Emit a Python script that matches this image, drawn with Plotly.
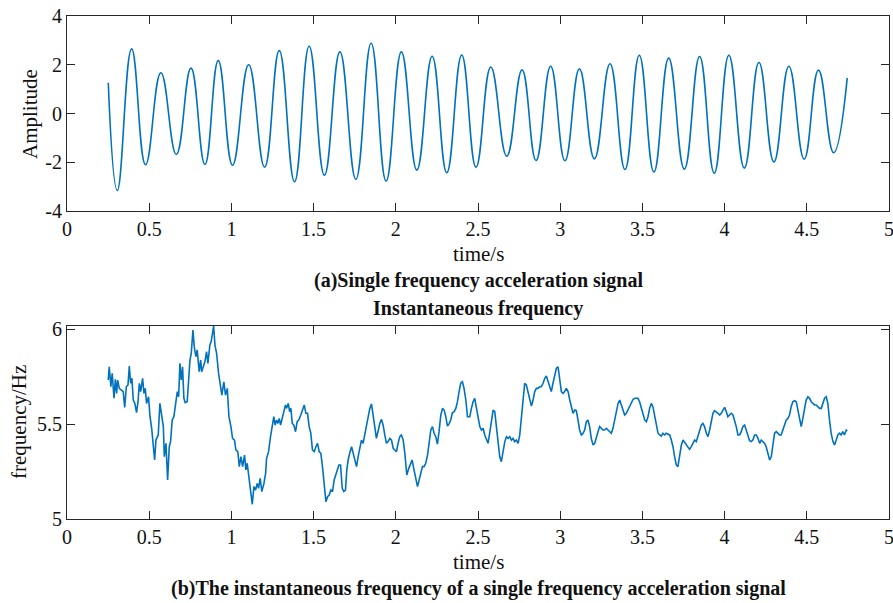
import plotly.graph_objects as go

# ---------------- data ----------------
# (a) acceleration signal: extrema (time, amplitude)
sig_t = [0.251, 0.306, 0.393, 0.478, 0.571, 0.665, 0.754, 0.839, 0.920, 1.007,
         1.105, 1.202, 1.291, 1.384, 1.473, 1.566, 1.660, 1.757, 1.850, 1.941,
         2.034, 2.128, 2.221, 2.310, 2.401, 2.488, 2.578, 2.675, 2.768, 2.853,
         2.942, 3.029, 3.117, 3.208, 3.303, 3.394, 3.481, 3.570, 3.660, 3.755,
         3.848, 3.937, 4.026, 4.120, 4.209, 4.300, 4.391, 4.484, 4.571, 4.663,
         4.746]
sig_a = [1.26, -3.16, 2.65, -2.10, 1.67, -1.68, 1.86, -2.09, 2.17, -2.12,
         2.00, -2.20, 2.58, -2.80, 2.76, -2.53, 2.53, -2.70, 2.88, -2.77,
         2.53, -2.32, 2.35, -2.43, 2.40, -2.20, 1.91, -1.75, 1.79, -1.93,
         1.94, -1.94, 1.83, -1.86, 2.04, -2.30, 2.39, -2.40, 2.27, -2.28,
         2.34, -2.45, 2.39, -2.24, 2.09, -1.99, 1.94, -1.87, 1.78, -1.61,
         1.46]

# (b) instantaneous frequency (time, Hz)
freq_t = [0.251, 0.257, 0.267, 0.275, 0.286, 0.294, 0.302, 0.308, 0.318, 0.332,
          0.342, 0.351, 0.361, 0.371, 0.379, 0.387, 0.395, 0.403, 0.413, 0.423,
          0.432, 0.440, 0.448, 0.460, 0.468, 0.476, 0.484, 0.496, 0.505, 0.515,
          0.525, 0.533, 0.541, 0.555, 0.565, 0.575, 0.586, 0.592, 0.602, 0.612,
          0.622, 0.630, 0.640, 0.650, 0.663, 0.671, 0.679, 0.687, 0.695, 0.703,
          0.711, 0.719, 0.731, 0.748, 0.756, 0.766, 0.774, 0.784, 0.792, 0.804,
          0.813, 0.819, 0.829, 0.839, 0.849, 0.857, 0.869, 0.877, 0.885, 0.892,
          0.900, 0.910, 0.922, 0.934, 0.942, 0.954, 0.964, 0.975, 0.985, 0.997,
          1.007, 1.019, 1.027, 1.039, 1.048, 1.058, 1.068, 1.080, 1.088, 1.096,
          1.108, 1.116, 1.127, 1.137, 1.147, 1.157, 1.165, 1.175, 1.185, 1.198,
          1.208, 1.214, 1.226, 1.238, 1.250, 1.258, 1.266, 1.275, 1.283, 1.291,
          1.299, 1.307, 1.319, 1.329,
          1.335, 1.346, 1.354, 1.362, 1.370, 1.380, 1.390, 1.400, 1.410, 1.422,
          1.433, 1.443, 1.453, 1.463, 1.473, 1.483, 1.493, 1.504, 1.514, 1.524,
          1.534, 1.544, 1.554, 1.564, 1.575, 1.585, 1.595, 1.605, 1.615, 1.625,
          1.635, 1.645, 1.654, 1.664, 1.674, 1.684, 1.694, 1.702, 1.710, 1.722,
          1.731, 1.741, 1.751, 1.761, 1.771, 1.781, 1.791, 1.801, 1.812, 1.822,
          1.832, 1.842, 1.852, 1.862, 1.872, 1.882, 1.893, 1.903, 1.913, 1.923,
          1.933, 1.943, 1.953, 1.964, 1.974, 1.984, 1.994, 2.004, 2.014, 2.024,
          2.034, 2.045, 2.055, 2.067, 2.079, 2.089, 2.099, 2.109, 2.120, 2.132,
          2.142, 2.152, 2.162, 2.172, 2.182, 2.193, 2.203, 2.213, 2.223, 2.233,
          2.243, 2.253, 2.263, 2.274, 2.284, 2.294, 2.304, 2.314, 2.324, 2.334,
          2.344, 2.355, 2.365, 2.375, 2.385, 2.395, 2.405, 2.415, 2.426, 2.436,
          2.446,
          2.450, 2.460, 2.470, 2.480, 2.490, 2.500, 2.511, 2.521, 2.531, 2.541,
          2.551, 2.561, 2.571, 2.582, 2.592, 2.602, 2.612, 2.622, 2.632, 2.642,
          2.652, 2.663, 2.673, 2.683, 2.693, 2.703, 2.713, 2.723, 2.733, 2.744,
          2.754, 2.764, 2.774, 2.784, 2.794, 2.804, 2.815, 2.825, 2.835, 2.845,
          2.855, 2.865, 2.875, 2.885, 2.896, 2.906, 2.916, 2.926, 2.936, 2.946,
          2.956, 2.966, 2.977, 2.987, 2.997, 3.007, 3.017, 3.027, 3.037, 3.048,
          3.058, 3.068, 3.078, 3.088, 3.098, 3.108, 3.118, 3.129, 3.139, 3.149,
          3.159, 3.169, 3.179, 3.189, 3.200, 3.210, 3.220, 3.230, 3.240, 3.250,
          3.260, 3.270, 3.281, 3.291, 3.301, 3.311, 3.321, 3.331, 3.341, 3.352,
          3.362, 3.372, 3.382, 3.392, 3.402, 3.412, 3.422, 3.433, 3.443, 3.453,
          3.463, 3.473, 3.483, 3.493, 3.503, 3.514, 3.524, 3.534, 3.544, 3.554,
          3.564, 3.574, 3.585, 3.595,
          3.605, 3.615, 3.625, 3.635, 3.645, 3.656, 3.666, 3.676, 3.686, 3.696,
          3.706, 3.716, 3.726, 3.737, 3.747, 3.757, 3.767, 3.777, 3.787, 3.797,
          3.808, 3.818, 3.828, 3.838, 3.848, 3.858, 3.868, 3.878, 3.889, 3.899,
          3.909, 3.919, 3.929, 3.939, 3.949, 3.960, 3.970, 3.980, 3.990, 4.000,
          4.010, 4.020, 4.030, 4.041, 4.051, 4.061, 4.071, 4.081, 4.091, 4.101,
          4.111, 4.122, 4.132, 4.142, 4.152, 4.162, 4.172, 4.182, 4.193, 4.203,
          4.213, 4.223, 4.233, 4.243, 4.253, 4.263, 4.274, 4.284, 4.294, 4.304,
          4.314, 4.324, 4.334, 4.344, 4.355, 4.365, 4.375, 4.385, 4.395, 4.405,
          4.415, 4.426, 4.436, 4.446, 4.456, 4.466, 4.476, 4.486, 4.496, 4.507,
          4.517, 4.527, 4.537, 4.547, 4.557, 4.567, 4.578, 4.588, 4.598, 4.608,
          4.618, 4.628, 4.638, 4.648, 4.659, 4.669, 4.679, 4.689, 4.699, 4.709,
          4.719, 4.729, 4.740, 4.746]
freq_v = [5.733, 5.803, 5.698, 5.768, 5.637, 5.737, 5.663, 5.733, 5.689, 5.681,
          5.672, 5.589, 5.698, 5.707, 5.807, 5.716, 5.742, 5.628, 5.610, 5.561,
          5.619, 5.716, 5.672, 5.742, 5.663, 5.689, 5.610, 5.645, 5.540, 5.479,
          5.382, 5.312, 5.417, 5.444, 5.610, 5.540, 5.488, 5.330, 5.400, 5.207,
          5.382, 5.409, 5.523, 5.540, 5.610, 5.672, 5.645, 5.821, 5.733, 5.803,
          5.637, 5.614, 5.619, 5.838, 5.874, 5.996, 5.909, 5.856, 5.891, 5.777,
          5.838, 5.777, 5.803, 5.830, 5.882, 5.821, 5.917, 5.935, 5.979, 6.017,
          5.917, 5.874, 5.768, 5.681, 5.654, 5.724, 5.654, 5.689, 5.540, 5.488,
          5.426, 5.417, 5.365, 5.356, 5.277, 5.330, 5.277, 5.338, 5.260, 5.295,
          5.207, 5.154, 5.079, 5.172, 5.154, 5.189, 5.163, 5.216, 5.146, 5.189,
          5.242, 5.321, 5.356, 5.435, 5.505, 5.540, 5.496, 5.523, 5.505, 5.531,
          5.496, 5.531, 5.567, 5.602,
          5.584, 5.610, 5.567, 5.584, 5.505, 5.496, 5.461, 5.514, 5.523, 5.549,
          5.575, 5.602, 5.558, 5.558, 5.488, 5.453, 5.365, 5.356, 5.382, 5.400,
          5.356, 5.347, 5.277, 5.189, 5.093, 5.119, 5.128, 5.154, 5.146, 5.207,
          5.233, 5.260, 5.286, 5.286, 5.163, 5.146, 5.154, 5.260, 5.312, 5.356,
          5.382, 5.347, 5.312, 5.277, 5.330, 5.374, 5.417, 5.400, 5.453, 5.488,
          5.540, 5.584, 5.607, 5.558, 5.488, 5.426, 5.470, 5.505, 5.526, 5.496,
          5.444, 5.400, 5.409, 5.426, 5.417, 5.374, 5.365, 5.356, 5.400, 5.435,
          5.444, 5.417, 5.347, 5.233, 5.268, 5.286, 5.312, 5.268, 5.216, 5.172,
          5.207, 5.242, 5.277, 5.277, 5.295, 5.338, 5.417, 5.470, 5.488, 5.453,
          5.435, 5.396, 5.461, 5.549, 5.584, 5.575, 5.540, 5.491, 5.502, 5.523,
          5.561, 5.567, 5.584, 5.619, 5.672, 5.716, 5.724, 5.689, 5.628, 5.540,
          5.540,
          5.540, 5.584, 5.619, 5.637, 5.593, 5.540, 5.488, 5.470, 5.479, 5.444,
          5.417, 5.400, 5.453, 5.523, 5.575, 5.567, 5.488, 5.400, 5.330, 5.303,
          5.365, 5.409, 5.435, 5.426, 5.435, 5.417, 5.426, 5.409, 5.417, 5.400,
          5.444, 5.540, 5.663, 5.716, 5.707, 5.672, 5.619, 5.596, 5.628, 5.672,
          5.689, 5.689, 5.698, 5.698, 5.716, 5.742, 5.754, 5.724, 5.689, 5.672,
          5.716, 5.751, 5.795, 5.803, 5.742, 5.672, 5.663, 5.672, 5.689, 5.672,
          5.628, 5.593, 5.558, 5.575, 5.572, 5.523, 5.470, 5.444, 5.453, 5.470,
          5.514, 5.523, 5.488, 5.426, 5.391, 5.400, 5.435, 5.461, 5.488, 5.479,
          5.470, 5.470, 5.479, 5.470, 5.461, 5.453, 5.479, 5.523, 5.575, 5.610,
          5.628, 5.602, 5.575, 5.549, 5.558, 5.575, 5.593, 5.619, 5.631, 5.637,
          5.635, 5.637, 5.619, 5.589, 5.549, 5.523, 5.514, 5.540, 5.584, 5.610,
          5.593, 5.549, 5.496, 5.453,
          5.444, 5.438, 5.453, 5.444, 5.453, 5.447, 5.444, 5.417, 5.382, 5.330,
          5.286, 5.277, 5.330, 5.391, 5.417, 5.403, 5.391, 5.382, 5.368, 5.382,
          5.400, 5.417, 5.409, 5.435, 5.461, 5.496, 5.505, 5.488, 5.453, 5.435,
          5.470, 5.523, 5.558, 5.572, 5.567, 5.558, 5.549, 5.558, 5.575, 5.589,
          5.567, 5.540, 5.549, 5.558, 5.549, 5.523, 5.488, 5.444, 5.444, 5.461,
          5.488, 5.496, 5.470, 5.435, 5.414, 5.409, 5.417, 5.444, 5.444, 5.426,
          5.400, 5.417, 5.409, 5.400, 5.382, 5.347, 5.312, 5.330, 5.400, 5.453,
          5.461, 5.453, 5.444, 5.444, 5.470, 5.488, 5.523, 5.531, 5.549, 5.593,
          5.619, 5.624, 5.619, 5.575, 5.523, 5.488, 5.531, 5.593, 5.628, 5.645,
          5.637, 5.619, 5.610, 5.602, 5.602, 5.593, 5.584, 5.584, 5.610, 5.637,
          5.645, 5.610, 5.523, 5.453, 5.409, 5.391, 5.417, 5.444, 5.453, 5.444,
          5.461, 5.444, 5.470, 5.466]

x_ticks = [0, 0.5, 1, 1.5, 2, 2.5, 3, 3.5, 4, 4.5, 5]
x_ticktext = ["0", "0.5", "1", "1.5", "2", "2.5", "3", "3.5", "4", "4.5", "5"]
amp_ticks = [-4, -2, 0, 2, 4]
amp_ticktext = ["-4", "-2", "0", "2", "4"]
freq_ticks = [5, 5.5, 6]
freq_ticktext = ["5", "5.5", "6"]

# ---------------- figure ----------------
W, H = 893, 603
FONT = "Liberation Serif"
LINE = "#0072BD"
AX = "#262626"


def py(p):
    return 1 - p / H


fig = go.Figure()
fig.add_trace(go.Scatter(x=sig_t, y=sig_a, mode="lines",
                         line=dict(color=LINE, width=1.6, shape="spline", smoothing=1.3),
                         xaxis="x", yaxis="y", showlegend=False))
fig.add_trace(go.Scatter(x=freq_t, y=freq_v, mode="lines",
                         line=dict(color=LINE, width=1.6),
                         xaxis="x2", yaxis="y2", showlegend=False))

axis_common = dict(showgrid=False, zeroline=False, showline=True, linecolor=AX,
                   linewidth=1, mirror="ticks", ticks="inside", ticklen=8,
                   tickcolor=AX, tickwidth=1, automargin=False,
                   tickfont=dict(family=FONT, size=20, color="#111"))

xdom = [67 / W, 889 / W]
fig.update_layout(
    width=W, height=H,
    margin=dict(l=0, r=0, t=0, b=0, pad=0, autoexpand=False),
    paper_bgcolor="white", plot_bgcolor="white",
    xaxis=dict(domain=xdom, range=[0, 5], tickvals=x_ticks, ticktext=x_ticktext,
               anchor="y", ticklabeloverflow="allow", **axis_common),
    yaxis=dict(domain=[py(211), py(16)], range=[-4, 4], tickvals=amp_ticks,
               ticktext=amp_ticktext, anchor="x", **axis_common),
    xaxis2=dict(domain=xdom, range=[0, 5], tickvals=x_ticks, ticktext=x_ticktext,
                anchor="y2", ticklabeloverflow="allow", **axis_common),
    yaxis2=dict(domain=[py(519.3), py(325.7)], range=[5, 6.019], tickvals=freq_ticks,
                ticktext=freq_ticktext, anchor="x2", **axis_common),
)

xc = (xdom[0] + xdom[1]) / 2
ann = [
    dict(text="time/s", x=xc, y=py(254), font=dict(size=21)),
    dict(text="<b>(a)Single frequency acceleration signal</b>", x=xc, y=py(280), font=dict(size=20)),
    dict(text="<b>Instantaneous frequency</b>", x=xc, y=py(308), font=dict(size=20)),
    dict(text="time/s", x=xc, y=py(562), font=dict(size=21)),
    dict(text="<b>(b)The instantaneous frequency of a single frequency acceleration signal</b>",
         x=xc, y=py(588), font=dict(size=20)),
    dict(text="Amplitude", x=30 / W, y=py(114), textangle=-90, font=dict(size=21)),
    dict(text="frequency/Hz", x=19 / W, y=py(422), textangle=-90, font=dict(size=21)),
]
for a in ann:
    a.update(xref="paper", yref="paper", showarrow=False, xanchor="center", yanchor="middle")
    a["font"].update(family=FONT, color="#111")
fig.update_layout(annotations=ann)

fig.write_html("out.html")
